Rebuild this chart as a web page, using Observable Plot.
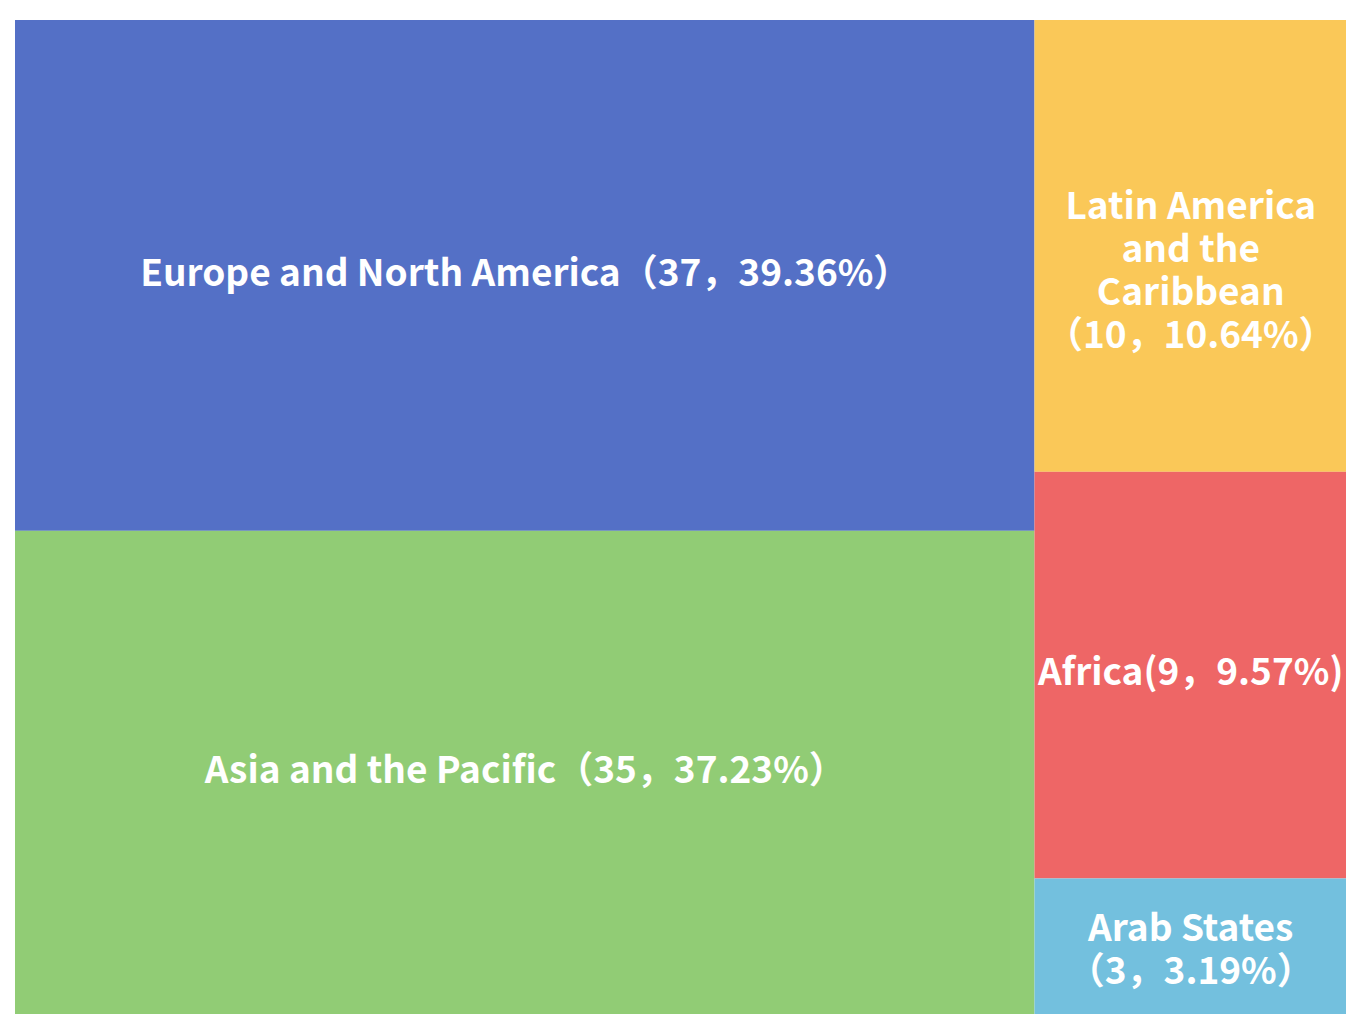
<!DOCTYPE html>
<html>
<head>
<meta charset="utf-8">
<script src="https://cdn.jsdelivr.net/npm/d3@7"></script>
<script src="https://cdn.jsdelivr.net/npm/@observablehq/plot@0.6"></script>
<style>
  html, body { margin: 0; padding: 0; background: #fff; }
  #chart svg { display: block; }
</style>
</head>
<body>
<div id="chart"></div>
<script>
// Data
const groups = ["left", "left", "right", "right", "right"];
const regions = ["Europe and North America", "Asia and the Pacific", "Latin America and the Caribbean", "Africa", "Arab States"];
const counts = [37, 35, 10, 9, 3];
const percents = ["39.36%", "37.23%", "10.64%", "9.57%", "3.19%"];
const labels = [
  "Europe and North America（37，39.36%）",
  "Asia and the Pacific（35，37.23%）",
  "\nLatin America\nand the\nCaribbean\n（10，10.64%）",
  "Africa(9，9.57%)",
  "Arab States\n（3，3.19%）"
];
const colors = ["#5470c6", "#91cc75", "#fac858", "#ee6666", "#73c0de"];

const rows = regions.map((r, i) => ({region: r, group: groups[i], value: counts[i], label: labels[i], color: colors[i]}));

const groupNames = [...new Set(groups)];
const tree = {
  name: "root",
  children: groupNames.map(g => ({name: g, children: rows.filter(d => d.group === g)}))
};
const root = d3.hierarchy(tree).sum(d => d.value || 0);
d3.treemap().tile(d3.treemapSliceDice).size([1, 1]).paddingInner(0)(root);
const cells = root.leaves().map(n => ({...n.data, x0: n.x0, x1: n.x1, y0: n.y0, y1: n.y1}));

const textOpts = {
  x: d => (d.x0 + d.x1) / 2,
  y: d => (d.y0 + d.y1) / 2,
  text: "label",
  fill: "white",
  fontSize: 37,
  fontWeight: "bold",
  lineHeight: 1.16,
  fontFamily: "'Noto Sans CJK SC', 'Open Sans', sans-serif"
};

const chart = Plot.plot({
  width: 1361,
  height: 1030,
  marginLeft: 15,
  marginRight: 15,
  marginTop: 20,
  marginBottom: 16,
  x: {domain: [0, 1], axis: null},
  y: {domain: [0, 1], reverse: true, axis: null},
  color: {type: "identity"},
  marks: [
    Plot.rect(cells, {x1: "x0", x2: "x1", y1: "y0", y2: "y1", fill: "color"}),
    Plot.text(cells.filter(d => !d.label.includes("\n")), {...textOpts, dy: -4}),
    Plot.text(cells.filter(d => d.label.includes("\n")), {...textOpts, dy: 2})
  ]
});
document.getElementById("chart").appendChild(chart);
</script>
</body>
</html>
